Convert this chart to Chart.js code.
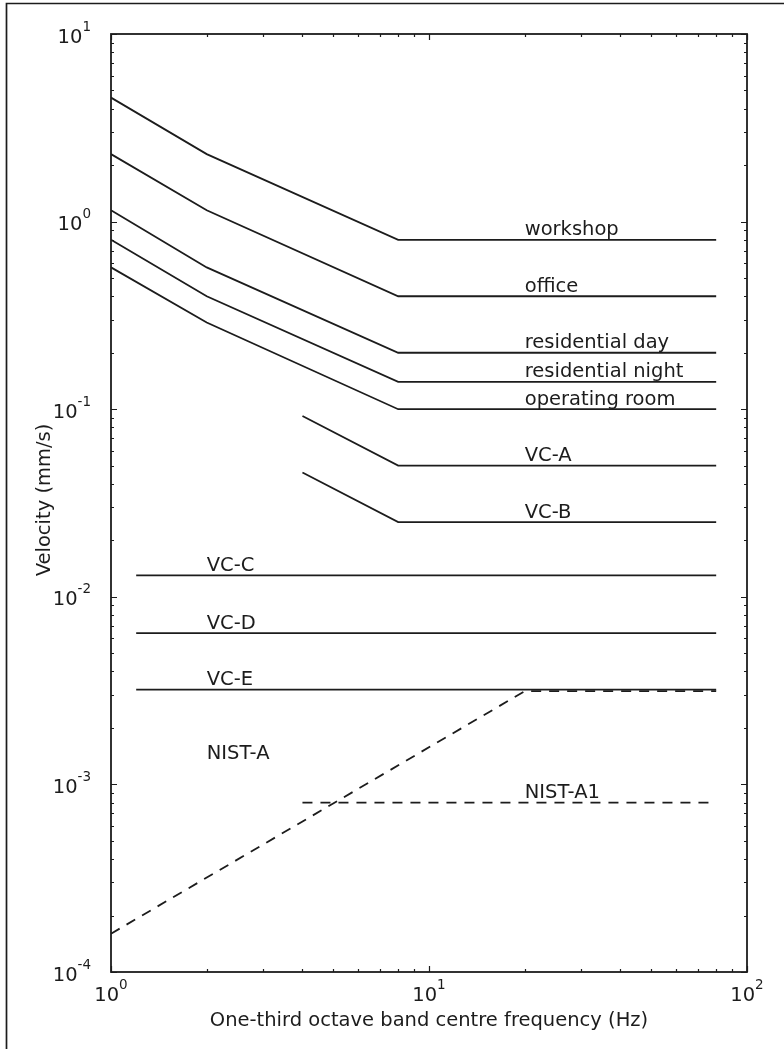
<!DOCTYPE html>
<html>
<head>
<meta charset="utf-8">
<title>Vibration criteria</title>
<script src="https://cdn.jsdelivr.net/npm/chart.js@4"></script>
<style>
  html, body { margin: 0; padding: 0; background: #fff; }
  #wrap { width: 784px; height: 1049px; }
</style>
</head>
<body>
<div id="wrap"><canvas id="chart" width="784" height="1049"></canvas></div>
<script>
// Frequencies (Hz) and velocities (mm/s)
const kneeFreqs = [1, 2, 8, 80];
const workshop = [4.58, 2.29, 0.8, 0.8];
const office = [2.29, 1.15, 0.4, 0.4];
const residentialDay = [1.15, 0.57, 0.2, 0.2];
const residentialNight = [0.80, 0.40, 0.14, 0.14];
const operatingRoom = [0.57, 0.29, 0.1, 0.1];

const vcFreqs = [4, 8, 80];
const vcA = [0.092, 0.05, 0.05];
const vcB = [0.046, 0.025, 0.025];

const flatFreqs = [1.2, 80];
const vcC = [0.013, 0.013];
const vcD = [0.0064, 0.0064];
const vcE = [0.0032, 0.0032];

const nistAFreqs = [1, 20, 80];
const nistA = [0.00016, 0.00314, 0.00314];
const nistA1Freqs = [4, 80];
const nistA1 = [0.0008, 0.0008];

// Curve labels: text, anchor frequency, anchor velocity
const labelTexts = ['workshop', 'office', 'residential day', 'residential night', 'operating room',
    'VC-A', 'VC-B', 'VC-C', 'VC-D', 'VC-E', 'NIST-A', 'NIST-A1'];
const labelFreqs = [20, 20, 20, 20, 20, 20, 20, 2, 2, 2, 2, 20];
const labelVals = [0.8, 0.4, 0.2, 0.14, 0.1, 0.05, 0.025, 0.013, 0.0064, 0.0032, 0.0013, 0.0008];

// Axis ticks
const xMajor = [1, 10, 100];
const xExp = ['0', '1', '2'];
const yMajor = [1e-4, 1e-3, 1e-2, 1e-1, 1, 10];
const yExp = ['-4', '-3', '-2', '-1', '0', '1'];

const FONT = '"DejaVu Sans", "Liberation Sans", sans-serif';
const INK = '#1c1c1c';

function pts(xs, ys) {
    return xs.map((f, i) => ({ x: f, y: ys[i] }));
}

function line(data, dashed) {
    return {
        data: data,
        showLine: true,
        borderColor: INK,
        borderWidth: 1.8,
        borderDash: dashed ? [10, 8] : [],
        pointRadius: 0,
        fill: false,
        tension: 0
    };
}

function minorTicks(majors) {
    const out = [];
    for (let i = 0; i < majors.length - 1; i++) {
        for (let k = 2; k <= 9; k++) out.push(majors[i] * k);
    }
    return out;
}

// draws "10" with a raised exponent
function drawPow(ctx, exp, xpos, baseline, align) {
    ctx.font = '19.5px ' + FONT;
    const wb = ctx.measureText('10').width;
    ctx.font = '13.5px ' + FONT;
    const we = ctx.measureText(exp).width;
    const total = wb + we;
    const left = align === 'center' ? xpos - total / 2 : xpos - total;
    ctx.textAlign = 'left';
    ctx.textBaseline = 'alphabetic';
    ctx.font = '19.5px ' + FONT;
    ctx.fillText('10', left, baseline);
    ctx.font = '13.5px ' + FONT;
    ctx.fillText(exp, left + wb, baseline - 12);
}

const decorations = {
    id: 'decorations',
    afterDraw(chart) {
        const { ctx, chartArea: a, scales: { x, y } } = chart;
        ctx.save();
        ctx.strokeStyle = INK;
        ctx.fillStyle = INK;

        // ticks, pointing inward on all four sides
        ctx.lineWidth = 1.2;
        const tickX = (vals, len) => vals.forEach(v => {
            const px = Math.round(x.getPixelForValue(v)) + 0.5;
            ctx.beginPath();
            ctx.moveTo(px, a.bottom); ctx.lineTo(px, a.bottom - len);
            ctx.moveTo(px, a.top); ctx.lineTo(px, a.top + len);
            ctx.stroke();
        });
        const tickY = (vals, len) => vals.forEach(v => {
            const py = Math.round(y.getPixelForValue(v)) + 0.5;
            ctx.beginPath();
            ctx.moveTo(a.left, py); ctx.lineTo(a.left + len, py);
            ctx.moveTo(a.right, py); ctx.lineTo(a.right - len, py);
            ctx.stroke();
        });
        tickX(xMajor, 6);
        tickX(minorTicks(xMajor), 3);
        tickY(yMajor, 6);
        tickY(minorTicks(yMajor), 3);

        // frame
        ctx.lineWidth = 1.8;
        ctx.strokeRect(a.left, a.top, a.right - a.left, a.bottom - a.top);

        // tick labels
        xMajor.forEach((v, i) => drawPow(ctx, xExp[i], x.getPixelForValue(v), a.bottom + 29, 'center'));
        yMajor.forEach((v, i) => drawPow(ctx, yExp[i], a.left - 20, y.getPixelForValue(v) + 8.5, 'right'));

        // axis titles
        ctx.font = '19.5px ' + FONT;
        ctx.textAlign = 'center';
        ctx.textBaseline = 'alphabetic';
        ctx.fillText('One-third octave band centre frequency (Hz)', (a.left + a.right) / 2, a.bottom + 54);
        ctx.save();
        ctx.translate(50, (a.top + a.bottom) / 2 - 3);
        ctx.rotate(-Math.PI / 2);
        ctx.fillText('Velocity (mm/s)', 0, 0);
        ctx.restore();

        // curve labels
        ctx.textAlign = 'left';
        labelTexts.forEach((t, i) => {
            ctx.fillText(t, x.getPixelForValue(labelFreqs[i]), y.getPixelForValue(labelVals[i]) - 4.5);
        });

        // outer picture border (left and top)
        ctx.lineWidth = 1.7;
        ctx.beginPath();
        ctx.moveTo(6.5, chart.height);
        ctx.lineTo(6.5, 3.5);
        ctx.lineTo(chart.width, 3.5);
        ctx.stroke();
        ctx.restore();
    }
};

new Chart(document.getElementById('chart'), {
    type: 'scatter',
    data: {
        datasets: [
            line(pts(kneeFreqs, workshop)),
            line(pts(kneeFreqs, office)),
            line(pts(kneeFreqs, residentialDay)),
            line(pts(kneeFreqs, residentialNight)),
            line(pts(kneeFreqs, operatingRoom)),
            line(pts(vcFreqs, vcA)),
            line(pts(vcFreqs, vcB)),
            line(pts(flatFreqs, vcC)),
            line(pts(flatFreqs, vcD)),
            line(pts(flatFreqs, vcE)),
            line(pts(nistAFreqs, nistA), true),
            line(pts(nistA1Freqs, nistA1), true)
        ]
    },
    options: {
        responsive: false,
        animation: false,
        devicePixelRatio: 1,
        layout: { padding: { left: 111, top: 34, right: 37, bottom: 77 } },
        scales: {
            x: { type: 'logarithmic', min: 1, max: 100, display: false },
            y: { type: 'logarithmic', min: 1e-4, max: 10, display: false }
        },
        plugins: {
            legend: { display: false },
            tooltip: { enabled: false }
        }
    },
    plugins: [decorations]
});
</script>
</body>
</html>
